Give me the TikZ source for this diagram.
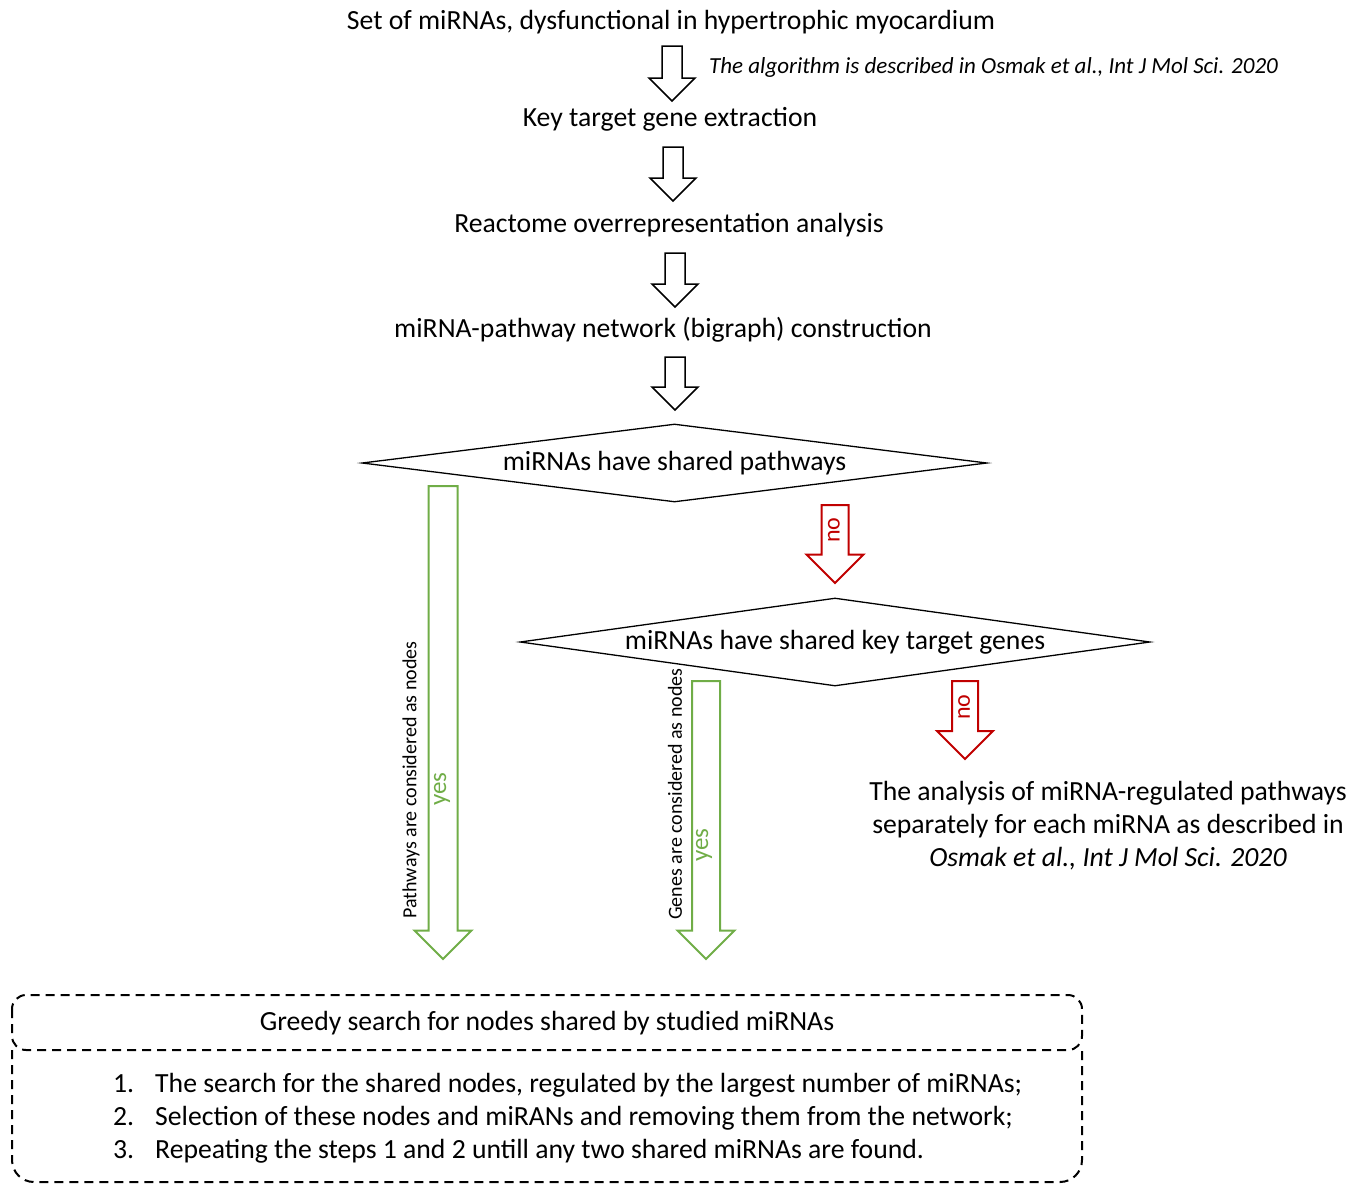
\documentclass[tikz,border=0pt]{standalone}
\usepackage{fontspec}
\setmainfont{Carlito}
\usetikzlibrary{shapes.geometric, positioning}

\definecolor{yesgreen}{RGB}{112,173,71}
\definecolor{nored}{RGB}{192,0,0}

% hollow block arrow pointing down: [style]{x}{y top}{y tip}{half shaft}{half head}
\newcommand{\blockdown}[6][]{%
  \draw[#1] (#2-#5,#3) -- (#2-#5,#4-#6) -- (#2-#6,#4-#6) -- (#2,#4)
    -- (#2+#6,#4-#6) -- (#2+#5,#4-#6) -- (#2+#5,#3) -- cycle;}

\begin{document}
\begin{tikzpicture}[
  x=1pt, y=-1pt,
  step text/.style={inner sep=0pt, font=\fontsize{27.7}{33}\selectfont},
  note/.style={inner sep=0pt, font=\fontsize{23}{27}\selectfont\itshape},
  side/.style={inner sep=0pt, rotate=90, font=\fontsize{20}{24}\selectfont},
  ask/.style={diamond, draw, line width=1.3pt, inner sep=0pt, aspect=7,
    font=\fontsize{27.7}{33}\selectfont},
  blk/.style={draw, line width=1.5pt},
  yesarrow/.style={draw=yesgreen, line width=2pt},
  noarrow/.style={draw=nored, line width=2pt},
  yeslbl/.style={inner sep=0pt, rotate=90, text=yesgreen, font=\fontsize{25}{30}\selectfont},
  nolbl/.style={inner sep=0pt, rotate=90, text=nored, font=\fontsize{24}{29}\selectfont},
  dashbox/.style={line width=2pt, dash pattern=on 9pt off 6pt}
]
\useasboundingbox (0,0) rectangle (1362,1184);

% main chain
\node[step text] (set) at (671,22) {Set of miRNAs, dysfunctional in hypertrophic myocardium};
\node[note, anchor=west] (ref) at (709,67) {The algorithm is described in Osmak et al., Int J Mol Sci. 2020};
\node[step text] (keygene) at (670,119) {Key target gene extraction};
\node[step text] (reactome) at (669,225) {Reactome overrepresentation analysis};
\node[step text] (bigraph) at (663,330) {miRNA-pathway network (bigraph) construction};

\blockdown[blk]{672}{46}{101}{10}{23}
\blockdown[blk]{673}{147}{201}{10}{23}
\blockdown[blk]{675}{253}{307}{10}{23}
\blockdown[blk]{675}{357}{410}{10}{23}

% decisions
\node[ask, minimum width=625pt, minimum height=78pt] (ask1) at (674.5,463) {miRNAs have shared pathways};
\node[ask, minimum width=630pt, minimum height=88pt] (ask2) at (835,642) {miRNAs have shared key target genes};

\blockdown[noarrow]{835}{505}{583}{13.5}{28.5}
\node[nolbl] (no1) at (834,530) {no};
\blockdown[noarrow]{965}{681}{759}{13}{28}
\node[nolbl] (no2) at (964,707) {no};

\blockdown[yesarrow]{443}{486}{959}{14.5}{28.5}
\node[yeslbl] (yes1) at (442,789) {yes};
\node[side] (pathnodes) at (411,780) {Pathways are considered as nodes};
\blockdown[yesarrow]{706}{681}{959}{14}{28.5}
\node[yeslbl] (yes2) at (704,845) {yes};
\node[side] (genenodes) at (675,794) {Genes are considered as nodes};

\node[step text, align=center] (separate) at (1108,826)
  {The analysis of miRNA-regulated pathways\\
   separately for each miRNA as described in\\
   \textit{Osmak et al., Int J Mol Sci. 2020}};

% greedy search box
\draw[dashbox, rounded corners=14pt] (12,995) rectangle (1082,1050);
\draw[dashbox, rounded corners=22pt] (12,1050) -- (12,1182) -- (1082,1182) -- (1082,1050);
\node[step text] (greedy) at (547,1023) {Greedy search for nodes shared by studied miRNAs};
\node[step text, anchor=west] (steps) at (113,1119)
  {\begin{tabular}{@{}l@{\hspace{21pt}}l@{}}
   1. & The search for the shared nodes, regulated by the largest number of miRNAs;\\
   2. & Selection of these nodes and miRANs and removing them from the network;\\
   3. & Repeating the steps 1 and 2 untill any two shared miRNAs are found.
   \end{tabular}};
\end{tikzpicture}
\end{document}
